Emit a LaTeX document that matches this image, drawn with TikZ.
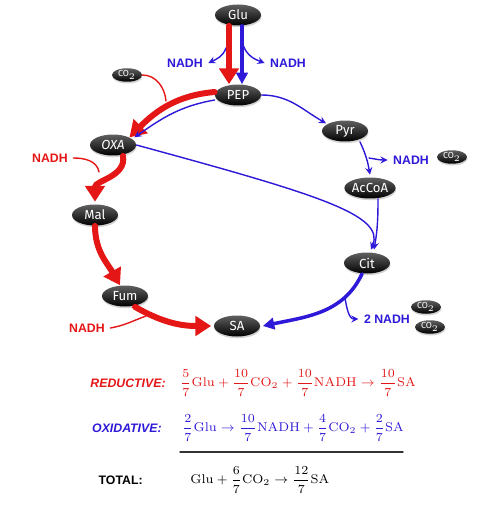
\documentclass[tikz,border=0pt]{standalone}
\usepackage{amsmath}
\usepackage{fontspec}
\setsansfont{Liberation Sans}
\newfontfamily\metfont{Fira Sans}
\usetikzlibrary{shapes.geometric,arrows.meta,shadows}
\definecolor{rxred}{RGB}{228,22,22}
\definecolor{oxblue}{RGB}{45,25,215}
\begin{document}
\begin{tikzpicture}[x=0.02cm,y=-0.02cm,line cap=round,>=stealth,
	met/.style={ellipse,top color=gray!75!black,bottom color=black,text=white,font=\metfont\fontsize{7.5}{8}\selectfont,minimum width=0.92cm,minimum height=0.42cm,inner sep=0pt,drop shadow={opacity=0.35,shadow xshift=0.3pt,shadow yshift=-1pt}},
	cotwo/.style={met,minimum width=0.6cm,minimum height=0.27cm,font=\metfont\fontsize{5}{5}\selectfont},
	nadhr/.style={text=rxred,font=\sffamily\bfseries\fontsize{7}{8}\selectfont,inner sep=0pt},
	nadhb/.style={nadhr,text=oxblue},
	redthick/.style={draw=rxred,line width=3.4pt,-{Triangle[length=9pt,width=11pt]}},
	redthin/.style={draw=rxred,line width=0.8pt},
	bluethick/.style={draw=oxblue,line width=2pt,-{Triangle[length=6.5pt,width=6.5pt]}},
	bluethin/.style={draw=oxblue,line width=0.8pt}]
	\useasboundingbox (0,0) rectangle (500,513);
	\node[met] (glu) at (238,15) {Glu};
	\node[met] (pep) at (238,95) {PEP};
	\node[cotwo] (co2a) at (127,75) {CO$_2$};
	\node[met] (oxa) at (113,145) {\textit{OXA}};
	\node[met] (mal) at (95,215) {Mal};
	\node[met] (fum) at (125,296) {Fum};
	\node[met] (sa) at (237,326) {SA};
	\node[met] (pyr) at (345,131) {Pyr};
	\node[met] (accoa) at (370,188) {AcCoA};
	\node[met] (cit) at (367,263) {Cit};
	\node[nadhb] (n1) at (185,63) {NADH};
	\node[nadhb] (n2) at (288,63) {NADH};
	\node[nadhr] (n3) at (50,158) {NADH};
	\node[nadhr] (n4) at (87,328) {NADH};
	\node[nadhb] (n5) at (411,160) {NADH};
	\node[cotwo] (co2b) at (452,157) {CO$_2$};
	\node[nadhb] (n6) at (387,319) {2 NADH};
	\node[cotwo] (co2c) at (426,307) {CO$_2$};
	\node[cotwo] (co2d) at (430,327) {CO$_2$};
	% glycolysis
	\coordinate (b1) at (226,48);
	\coordinate (b2) at (243,45);
	\draw[bluethin,->] (b1) to[out=-110,in=25] ([xshift=3pt]n1.east);
	\draw[bluethin,->] (b2) to[out=-70,in=160] ([xshift=-3pt]n2.west);
	\draw[redthick] ([xshift=-0.18cm]glu.south) -- ([xshift=-0.18cm]pep.north);
	\draw[bluethick] ([xshift=0.08cm]glu.south) -- ([xshift=0.08cm]pep.north);
	% reductive branch
	\coordinate (r1) at (166,101);
	\draw[redthin] (co2a.east) to[out=0,in=95] (r1);
	\draw[redthick] ([yshift=0.06cm]pep.west) to[out=185,in=45] (oxa.north east);
	\draw[bluethin,->] ([yshift=-0.1cm]pep.west) to[out=190,in=35] ([xshift=0.1cm]oxa.north east);
	\coordinate (r2) at (99,172);
	\draw[redthin] ([xshift=3pt]n3.east) to[out=0,in=100] (r2);
	\draw[redthick] ([xshift=0.2cm]oxa.south) to[out=-80,in=90] ([yshift=0.05cm]mal.north);
	\draw[redthick] (mal.south) to[out=-90,in=120] ([xshift=-0.1cm]fum.north);
	\coordinate (r3) at (146,316);
	\draw[redthin] ([xshift=3pt]n4.east) to[out=10,in=200] (r3);
	\draw[redthick] ([xshift=0.2cm]fum.south) to[out=-30,in=180] ([xshift=-0.05cm]sa.west);
	% oxidative branch
	\draw[bluethin,->] (pep.east) to[out=0,in=150] ([xshift=-0.05cm]pyr.north west);
	\coordinate (b3) at (369,158);
	\draw[bluethin,->] ([xshift=0.3cm]pyr.south) to[out=-65,in=100] ([yshift=0.05cm]accoa.north);
	\draw[bluethin,->] (b3) to[out=-10,in=180] ([xshift=-3pt]n5.west);
	\draw[bluethin,->] (oxa.east) .. controls (320,195) and (385,215) .. ([xshift=0.08cm,yshift=0.05cm]cit.north);
	\draw[bluethin,->] ([xshift=0.16cm]accoa.south) to[out=-90,in=80] ([xshift=0.14cm,yshift=0.05cm]cit.north);
	\coordinate (b4) at (345,298);
	\draw[bluethin,->] (b4) to[out=-80,in=180] ([xshift=-3pt]n6.west);
	\draw[bluethick] ([xshift=-0.1cm]cit.south) to[out=-115,in=12] ([xshift=0.05cm]sa.east);
	% balances
	\node[anchor=east,text=rxred,font=\sffamily\bfseries\itshape\fontsize{7}{8}\selectfont,inner sep=0pt] (redlab) at (166,383) {REDUCTIVE:};
	\node[anchor=east,text=oxblue,font=\sffamily\bfseries\itshape\fontsize{7}{8}\selectfont,inner sep=0pt] (oxlab) at (162,428) {OXIDATIVE:};
	\node[anchor=east,font=\sffamily\bfseries\fontsize{7}{8}\selectfont,inner sep=0pt] (totlab) at (143,480) {TOTAL:};
	\node[anchor=west,text=rxred,font=\fontsize{7.2}{8}\selectfont,inner sep=0pt] (redeq) at (180,383) {$\dfrac{5}{7}\mathrm{Glu}+\dfrac{10}{7}\mathrm{CO_2}+\dfrac{10}{7}\mathrm{NADH}\to\dfrac{10}{7}\mathrm{SA}$};
	\node[anchor=west,text=oxblue,font=\fontsize{7.2}{8}\selectfont,inner sep=0pt] (oxeq) at (182,428) {$\dfrac{2}{7}\mathrm{Glu}\to\dfrac{10}{7}\mathrm{NADH}+\dfrac{4}{7}\mathrm{CO_2}+\dfrac{2}{7}\mathrm{SA}$};
	\coordinate (l1) at (180,452);
	\coordinate (l2) at (403,452);
	\draw[line width=0.8pt,black!80] (l1) -- (l2);
	\node[anchor=west,font=\fontsize{7.2}{8}\selectfont,inner sep=0pt] (toteq) at (190,480) {$\mathrm{Glu}+\dfrac{6}{7}\mathrm{CO_2}\to\dfrac{12}{7}\mathrm{SA}$};
\end{tikzpicture}
\end{document}
